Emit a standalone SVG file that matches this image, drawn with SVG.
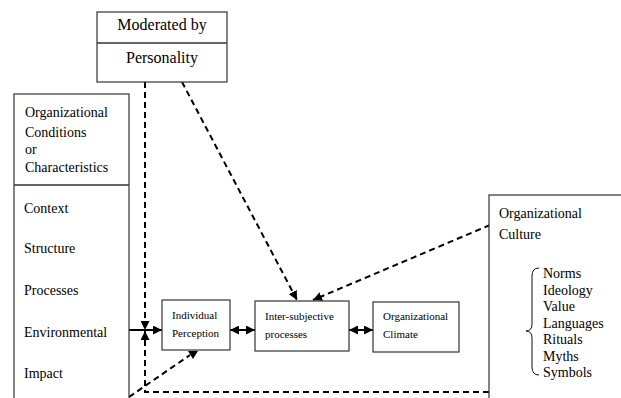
<svg xmlns="http://www.w3.org/2000/svg" width="621" height="398" viewBox="0 0 621 398">
<style>
.box{fill:#fff;stroke:#333;stroke-width:1.2}
.div{stroke:#333;stroke-width:1.6}
.dash{fill:none;stroke:#000;stroke-width:2;stroke-dasharray:6,4}
.solid{fill:none;stroke:#000;stroke-width:2}
</style>
<defs>
<marker id="ah" viewBox="0 0 10 10" refX="10" refY="5" markerWidth="9" markerHeight="9" markerUnits="userSpaceOnUse" orient="auto-start-reverse">
<path d="M0,0 L10,5 L0,10 Z" fill="#000"/>
</marker>
</defs>
<rect width="621" height="398" fill="#fff"/>
<g id="connectors">
<line class="dash" x1="182" y1="82" x2="297" y2="300" marker-end="url(#ah)"/>
<line class="dash" x1="490" y1="225" x2="313" y2="300" marker-end="url(#ah)"/>
<line class="dash" x1="145" y1="82" x2="145" y2="330" marker-end="url(#ah)"/>
<path class="dash" d="M489,392 H145 V331" marker-end="url(#ah)"/>
<line class="dash" x1="129" y1="397" x2="190" y2="355"/>
<polygon points="188,351 198,351 193,359" fill="#000"/>
<line class="solid" x1="129" y1="330" x2="162" y2="330" marker-end="url(#ah)"/>
<line class="solid" x1="230" y1="330" x2="255" y2="330" marker-start="url(#ah)" marker-end="url(#ah)"/>
<line class="solid" x1="349" y1="330" x2="373" y2="330" marker-start="url(#ah)" marker-end="url(#ah)"/>
</g>
<g id="moderated">
<rect class="box" x="97" y="12" width="130" height="70"/>
<line class="div" x1="97" y1="43" x2="227" y2="43"/>
<text x="162" y="30" text-anchor="middle" font-family="Liberation Serif" font-size="16">Moderated by</text>
<text x="162" y="63" text-anchor="middle" font-family="Liberation Serif" font-size="16">Personality</text>
</g>
<g id="conditions">
<rect class="box" x="14" y="94" width="115" height="310"/>
<line class="div" x1="14" y1="185" x2="129" y2="185"/>
<text x="25" y="117" font-family="Liberation Serif" font-size="14">Organizational</text>
<text x="25" y="137" font-family="Liberation Serif" font-size="14">Conditions</text>
<text x="25" y="154" font-family="Liberation Serif" font-size="14">or</text>
<text x="25" y="172" font-family="Liberation Serif" font-size="14">Characteristics</text>
<text x="24" y="213" font-family="Liberation Serif" font-size="14">Context</text>
<text x="24" y="253" font-family="Liberation Serif" font-size="14">Structure</text>
<text x="24" y="295" font-family="Liberation Serif" font-size="14">Processes</text>
<text x="24" y="337" font-family="Liberation Serif" font-size="14">Environmental</text>
<text x="24" y="378" font-family="Liberation Serif" font-size="14">Impact</text>
</g>
<g id="perception">
<rect class="box" x="162" y="300" width="68" height="50"/>
<text x="172" y="319" font-family="Liberation Serif" font-size="11">Individual</text>
<text x="172" y="337" font-family="Liberation Serif" font-size="11">Perception</text>
</g>
<g id="intersubjective">
<rect class="box" x="255" y="301" width="94" height="50"/>
<text x="265" y="320" font-family="Liberation Serif" font-size="11">Inter-subjective</text>
<text x="265" y="338" font-family="Liberation Serif" font-size="11">processes</text>
</g>
<g id="climate">
<rect class="box" x="373" y="302" width="86" height="50"/>
<text x="383" y="320" font-family="Liberation Serif" font-size="11">Organizational</text>
<text x="383" y="338" font-family="Liberation Serif" font-size="11">Climate</text>
</g>
<g id="culture">
<rect class="box" x="489" y="195" width="140" height="210"/>
<text x="499" y="218" font-family="Liberation Serif" font-size="14">Organizational</text>
<text x="499" y="239" font-family="Liberation Serif" font-size="14">Culture</text>
<path d="M539,268 Q532,268 532,276 L532,324 Q532,331 526,331 Q532,331 532,338 L532,367 Q532,375 539,375" fill="none" stroke="#111" stroke-width="1"/>
<text x="543" y="278" font-family="Liberation Serif" font-size="14">Norms</text>
<text x="543" y="294.5" font-family="Liberation Serif" font-size="14">Ideology</text>
<text x="543" y="311" font-family="Liberation Serif" font-size="14">Value</text>
<text x="543" y="327.5" font-family="Liberation Serif" font-size="14">Languages</text>
<text x="543" y="344" font-family="Liberation Serif" font-size="14">Rituals</text>
<text x="543" y="360.5" font-family="Liberation Serif" font-size="14">Myths</text>
<text x="543" y="377" font-family="Liberation Serif" font-size="14">Symbols</text>
</g>
</svg>
